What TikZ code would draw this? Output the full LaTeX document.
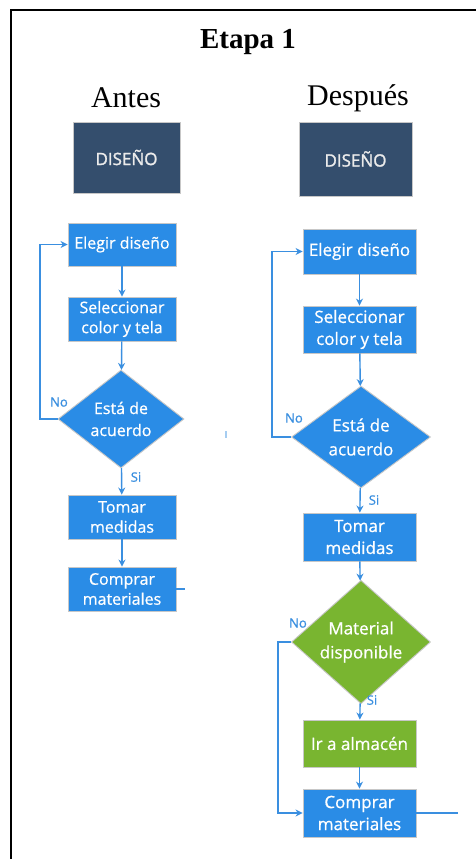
\documentclass[tikz,border=0pt]{standalone}
\usepackage{fontspec}
\setmainfont{Liberation Serif}
\newfontfamily\boxfont[FakeBold=0.7]{Open Sans}
\newfontfamily\dfont[FakeBold=1.6]{Open Sans}
\usetikzlibrary{shapes.geometric,arrows.meta}
\definecolor{fblue}{HTML}{2A8CE6}
\definecolor{fdark}{HTML}{344E6D}
\definecolor{fgreen}{HTML}{79B530}
\definecolor{lblue}{HTML}{3A8FE0}
\tikzset{
  base/.style={draw=black!22, line width=0.9pt, text=white, align=center, inner sep=0pt},
  procbox/.style={base, rectangle, fill=fblue, minimum width=108pt, font=\boxfont\fontsize{16}{20}\selectfont},
  procboxR/.style={base, rectangle, fill=fblue, minimum width=113pt, font=\boxfont\fontsize{17}{22}\selectfont},
  greenbox/.style={procboxR, fill=fgreen},
  darkbox/.style={base, rectangle, fill=fdark, text=white!92!black, font=\dfont\fontsize{17}{19}\selectfont},
  decis/.style={base, diamond, fill=fblue, font=\boxfont\fontsize{16}{22}\selectfont},
  decisR/.style={base, diamond, fill=fblue, font=\boxfont\fontsize{17}{24}\selectfont},
  conn/.style={draw=lblue, line width=1.4pt, -{Stealth[length=7pt,width=7pt]}},
  plainconn/.style={draw=lblue, line width=1.4pt},
  lbl/.style={text=lblue, font=\boxfont\fontsize{13}{15}\selectfont, inner sep=0pt},
}
\begin{document}
\begin{tikzpicture}[x=1pt,y=-1pt]
\useasboundingbox (0,0) rectangle (476,859);
\fill[white] (0,0) rectangle (476,859);
% frame
\draw[line width=2.3pt, black] (11,859) -- (11,10) -- (476,10);
% headings
\node[font=\fontsize{29}{32}\selectfont\bfseries] (title) at (248,42) {Etapa 1};
\node[font=\fontsize{30}{34}\selectfont] (antes) at (126,98) {Antes};
\node[font=\fontsize{30}{34}\selectfont] (despues) at (358,98) {Después};
% left column
\node[darkbox, minimum width=107pt, minimum height=71pt] (d1) at (126.5,157.5) {DISEÑO};
\node[procbox, minimum height=43pt] (e1) at (122,244.5) {Elegir diseño};
\node[procbox, minimum height=44pt] (s1) at (122,319) {Seleccionar\\color y tela};
\node[decis, minimum width=126pt, minimum height=98pt] (q1) at (121,419) {Está de\\acuerdo};
\node[procbox, minimum height=44pt] (t1) at (122,517) {Tomar\\medidas};
\node[procbox, minimum height=44pt] (c1) at (122,589) {Comprar\\materiales};
\coordinate (c1out) at (185,589);
\draw[conn] (e1) -- (s1);
\draw[conn] (s1) -- (q1);
\draw[conn] (q1) -- (t1);
\draw[conn] (t1) -- (c1);
\draw[plainconn] (c1.east) -- (c1out);
\draw[conn] (q1.west) -- (40,419) |- (e1.west);
\node[lbl] (no1) at (59,402) {No};
\node[lbl] (si1) at (136,477) {Si};
% stray mark
\draw[draw=lblue!45, line width=1.6pt] (226,431) -- (226,438);
% right column
\node[darkbox, minimum width=113pt, minimum height=74pt] (d2) at (355.5,159) {DISEÑO};
\node[procboxR, minimum height=45pt] (e2) at (359.5,251.5) {Elegir diseño};
\node[procboxR, minimum height=47pt] (s2) at (359.5,329.5) {Seleccionar\\color y tela};
\node[decisR, minimum width=139pt, minimum height=102pt] (q2) at (361,437) {Está de\\acuerdo};
\node[procboxR, minimum height=48pt] (t2) at (359.5,537) {Tomar\\medidas};
\node[decisR, fill=fgreen, minimum width=139pt, minimum height=102pt] (m2) at (361,642) {Material\\disponible};
\node[greenbox, minimum height=47pt] (a2) at (359.5,743.5) {Ir a almacén};
\node[procboxR, minimum height=48pt] (c2) at (359.5,813) {Comprar\\materiales};
\coordinate (c2out) at (458,813);
\draw[conn] (e2) -- (s2);
\draw[conn] (s2) -- (q2);
\draw[conn] (q2) -- (t2);
\draw[conn] (t2) -- (m2);
\draw[conn] (m2) -- (a2);
\draw[conn] (a2) -- (c2);
\draw[plainconn] (c2.east) -- (c2out);
\draw[conn] (q2.west) -- (272,437) |- (e2.west);
\draw[conn] (m2.west) -- (278,642) |- (c2.west);
\node[lbl] (no2) at (294,418) {No};
\node[lbl] (si2) at (374,500) {Si};
\node[lbl] (no3) at (298,623) {No};
\node[lbl] (si3) at (372,700) {Si};
\end{tikzpicture}
\end{document}
